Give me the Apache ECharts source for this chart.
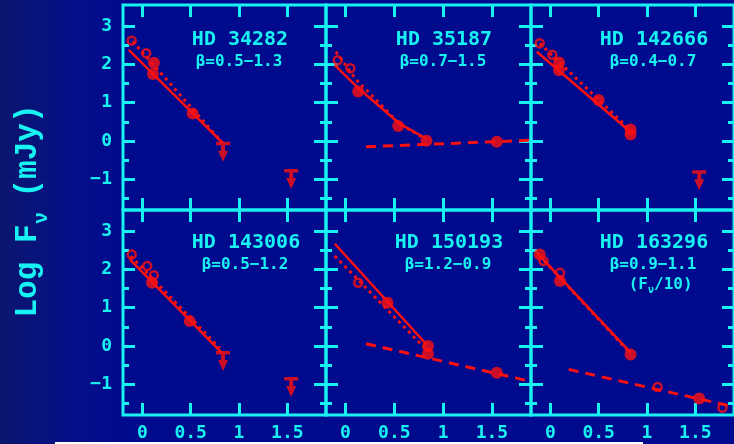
<!DOCTYPE html>
<html><head><meta charset="utf-8">
<script src="https://cdn.jsdelivr.net/npm/echarts@6/dist/echarts.min.js"></script>
<style>
html,body{margin:0;padding:0;background:#000a8a;}
#c{width:734px;height:444px;background:linear-gradient(to right,#0a166c 0px,#05108a 70px,#000a8c 125px,#000a8e 100%);}
</style>
</head><body><div id="c"></div>
<script>
// ---- text / ticks ----
const panelNames = ['HD 34282','HD 35187','HD 142666','HD 143006','HD 150193','HD 163296'];
const betaLabels = ['β=0.5−1.3','β=0.7−1.5','β=0.4−0.7','β=0.5−1.2','β=1.2−0.9','β=0.9−1.1'];
const xTicks = [0, 0.5, 1, 1.5];
const xTickLabels = ['0', '0.5', '1', '1.5'];
const yMajorTicks = [-1, 0, 1, 2, 3];
const yTickLabels = ['−1', '0', '1', '2', '3'];
const yMinorTicks = [-1.5, -0.5, 0.5, 1.5, 2.5];

// ---- data: [log lambda, log F] ----
// HD 34282
const p1Filled = [[0.12,2.04],[0.11,1.75],[0.52,0.72]];
const p1Open   = [[-0.11,2.62],[0.04,2.29]];
const p1Limits = [[0.835,-0.02],[1.54,-0.73]];
const p1Solid  = [[-0.14,2.38],[0.83,-0.05]];
const p1Dotted = [[-0.10,2.60],[0.83,-0.05]];
const p1Dashed = [];
// HD 35187
const p2Filled = [[0.13,1.29],[0.54,0.39],[0.83,0.01],[1.55,-0.02]];
const p2Open   = [[-0.08,2.11],[0.05,1.90]];
const p2Limits = [];
const p2Solid  = [[-0.11,1.98],[0.13,1.38],[0.35,0.90],[0.55,0.46],[0.83,0.06]];
const p2Dotted = [[-0.10,2.33],[0.11,1.60],[0.35,0.98],[0.55,0.45],[0.80,0.08]];
const p2Dashed = [[0.21,-0.15],[1.89,0.02]];
// HD 142666
const p3Filled = [[0.09,2.05],[0.09,1.85],[0.50,1.07],[0.83,0.30],[0.83,0.17]];
const p3Open   = [[-0.11,2.55],[0.02,2.25]];
const p3Limits = [[1.54,-0.76]];
const p3Solid  = [[-0.14,2.33],[0.80,0.30]];
const p3Dotted = [[-0.11,2.55],[0.80,0.35]];
const p3Dashed = [];
// HD 143006
const p4Filled = [[0.10,1.65],[0.49,0.65]];
const p4Open   = [[-0.11,2.39],[0.05,2.09],[0.12,1.85]];
const p4Limits = [[0.835,-0.13],[1.54,-0.81]];
const p4Solid  = [[-0.13,2.26],[0.82,-0.17]];
const p4Dotted = [[-0.12,2.35],[0.80,-0.05]];
const p4Dashed = [];
// HD 150193
const p5Filled = [[0.43,1.13],[0.845,0.00],[0.845,-0.20],[1.55,-0.70]];
const p5Open   = [[0.13,1.65]];
const p5Limits = [];
const p5Solid  = [[-0.11,2.67],[0.83,0.04]];
const p5Dotted = [[-0.11,2.35],[0.83,-0.10]];
const p5Dashed = [[0.21,0.06],[1.89,-0.92]];
// HD 163296
const p6Filled = [[-0.11,2.39],[0.10,1.70],[0.83,-0.22],[1.54,-1.37]];
const p6Open   = [[-0.07,2.22],[0.10,1.91],[1.11,-1.07],[1.78,-1.61]];
const p6Limits = [];
const p6Solid  = [[-0.14,2.44],[0.83,-0.17]];
const p6Dotted = [[-0.11,2.35],[0.83,-0.20]];
const p6Dashed = [[0.19,-0.61],[1.89,-1.58]];

const panels = [
  {filled:p1Filled, open:p1Open, limits:p1Limits, solid:p1Solid, dotted:p1Dotted, dashed:p1Dashed},
  {filled:p2Filled, open:p2Open, limits:p2Limits, solid:p2Solid, dotted:p2Dotted, dashed:p2Dashed},
  {filled:p3Filled, open:p3Open, limits:p3Limits, solid:p3Solid, dotted:p3Dotted, dashed:p3Dashed},
  {filled:p4Filled, open:p4Open, limits:p4Limits, solid:p4Solid, dotted:p4Dotted, dashed:p4Dashed},
  {filled:p5Filled, open:p5Open, limits:p5Limits, solid:p5Solid, dotted:p5Dotted, dashed:p5Dashed},
  {filled:p6Filled, open:p6Open, limits:p6Limits, solid:p6Solid, dotted:p6Dotted, dashed:p6Dashed}
];

const CYAN = '#18f2f2';
const RED = '#ff1010';
const MONO = '"DejaVu Sans Mono", monospace';
const colLeft = [123, 326, 531];
const colWidth = [203, 205, 205];
const rowTop = [5, 210];
const rowH = 205;
const limitPath = 'path://M0,0H14V3.5H9V9H12L7,20L2,9H5V3.5H0Z';

const grids = [], xAxes = [], yAxes = [], series = [];
panels.forEach((p, i) => {
  const r = Math.floor(i / 3), c = i % 3;
  grids.push({left: colLeft[c], top: rowTop[r], width: colWidth[c], height: rowH,
    show: true, borderColor: CYAN, borderWidth: 3, backgroundColor: 'transparent'});
  const xBase = {gridIndex: i, type: 'value', min: -0.2, max: 1.9,
    axisLine: {show: false, onZero: false}, splitLine: {show: false},
    axisTick: {show: true, inside: true, length: 12, customValues: xTicks, lineStyle: {color: CYAN, width: 3}}};
  const xi = xAxes.length;
  xAxes.push(Object.assign({}, xBase, {position: 'bottom',
    axisLabel: {show: r === 1, customValues: xTicks, margin: 9, color: CYAN,
      fontFamily: MONO, fontWeight: 'bold', fontSize: 18,
      formatter: v => xTickLabels[xTicks.indexOf(v)]}}));
  xAxes.push(Object.assign({}, xBase, {position: 'top', axisLabel: {show: false}}));
  const yi = yAxes.length;
  const yBase = {gridIndex: i, type: 'value', min: -1.8, max: 3.55,
    axisLine: {show: false, onZero: false}, splitLine: {show: false}};
  yAxes.push(Object.assign({}, yBase, {position: 'left',
    axisTick: {show: true, inside: true, length: 12, customValues: yMajorTicks, lineStyle: {color: CYAN, width: 3}},
    axisLabel: {show: c === 0, customValues: yMajorTicks, margin: 11, color: CYAN,
      fontFamily: MONO, fontWeight: 'bold', fontSize: 18,
      formatter: v => yTickLabels[yMajorTicks.indexOf(v)]}}));
  yAxes.push(Object.assign({}, yBase, {position: 'left',
    axisTick: {show: true, inside: true, length: 6, customValues: yMinorTicks, lineStyle: {color: CYAN, width: 3}},
    axisLabel: {show: false}}));
  yAxes.push(Object.assign({}, yBase, {position: 'right',
    axisTick: {show: true, inside: true, length: 12, customValues: yMajorTicks, lineStyle: {color: CYAN, width: 3}},
    axisLabel: {show: false}}));
  yAxes.push(Object.assign({}, yBase, {position: 'right',
    axisTick: {show: true, inside: true, length: 6, customValues: yMinorTicks, lineStyle: {color: CYAN, width: 3}},
    axisLabel: {show: false}}));
  const ax = {xAxisIndex: xi, yAxisIndex: yi};
  const lineS = (data, type, w) => Object.assign({type: 'line', data: data, showSymbol: false, symbol: 'none',
    silent: true, z: 2, lineStyle: {color: RED, width: w, type: type}}, ax);
  if (p.solid.length) series.push(lineS(p.solid, 'solid', 2.5));
  if (p.dotted.length) series.push(lineS(p.dotted, [3, 4], 3));
  if (p.dashed.length) series.push(lineS(p.dashed, [10, 7], 3));
  series.push(Object.assign({type: 'scatter', data: p.filled, symbol: 'circle', symbolSize: 12, z: 3,
    itemStyle: {color: RED}}, ax));
  series.push(Object.assign({type: 'scatter', data: p.open, symbol: 'circle', symbolSize: 8, z: 3,
    itemStyle: {color: 'rgba(0,0,0,0)', borderColor: RED, borderWidth: 2.5}}, ax));
  if (p.limits.length) series.push(Object.assign({type: 'scatter', data: p.limits, symbol: limitPath,
    symbolSize: [14, 20], symbolOffset: [0, '50%'], z: 3,
    itemStyle: {color: RED}}, ax));
});

const titleCenters = [[240,39.5],[444,39.5],[654,39.5],[246,242.5],[449,242.5],[654,242.5]];
const graphics = [];
panelNames.forEach((n, i) => {
  const [cx, cy] = titleCenters[i];
  graphics.push({type: 'text', x: cx, y: cy, z: 10, style: {text: n, fill: CYAN, font: 'bold 20px ' + MONO,
    align: 'center', verticalAlign: 'middle'}});
  graphics.push({type: 'text', x: cx - 1, y: cy + 22, z: 10, style: {text: betaLabels[i], fill: CYAN, font: 'bold 16px ' + MONO,
    align: 'center', verticalAlign: 'middle'}});
});
graphics.push({type: 'text', x: 648, y: 285, z: 10, style: {text: '(F', fill: CYAN, font: 'bold 16px ' + MONO, align: 'right', verticalAlign: 'middle'}});
graphics.push({type: 'text', x: 648, y: 290, z: 10, style: {text: 'ν', fill: CYAN, font: 'bold 10px ' + MONO, align: 'left', verticalAlign: 'middle'}});
graphics.push({type: 'text', x: 654, y: 285, z: 10, style: {text: '/10)', fill: CYAN, font: 'bold 16px ' + MONO, align: 'left', verticalAlign: 'middle'}});
// y-axis title, rotated
const TFONT = 'bold 31px "Liberation Mono", monospace';
graphics.push({type: 'text', x: 28, y: 271, rotation: Math.PI / 2, z: 10,
  style: {text: 'Log F', fill: CYAN, font: TFONT, align: 'center', verticalAlign: 'middle'}});
graphics.push({type: 'text', x: 42, y: 218, rotation: Math.PI / 2, z: 10,
  style: {text: 'ν', fill: CYAN, font: 'bold 20px "Liberation Mono", monospace', align: 'center', verticalAlign: 'middle'}});
graphics.push({type: 'text', x: 28, y: 151, rotation: Math.PI / 2, z: 10,
  style: {text: '(mJy)', fill: CYAN, font: TFONT, align: 'center', verticalAlign: 'middle'}});
graphics.push({type: 'rect', shape: {x: 55, y: 442, width: 588, height: 2}, style: {fill: '#ffffff'}, z: 10});

const chart = echarts.init(document.getElementById('c'), null, {renderer: 'canvas'});
chart.setOption({
  backgroundColor: 'transparent',
  animation: false,
  grid: grids, xAxis: xAxes, yAxis: yAxes, series: series, graphic: graphics
});
</script>
</body></html>
